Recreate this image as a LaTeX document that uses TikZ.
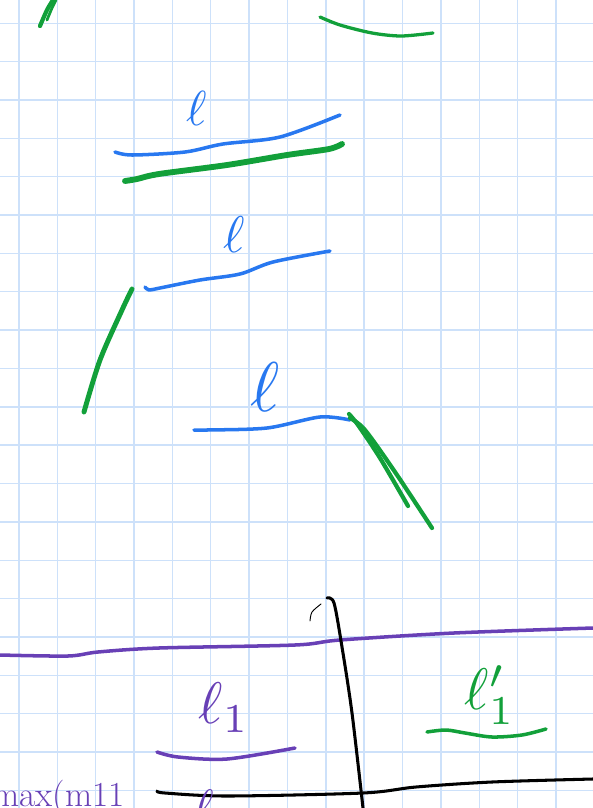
\documentclass[tikz,border=0pt]{standalone}
\usepackage{xcolor}
\usepackage{tikz}

\definecolor{gridblue}{RGB}{205,225,250}
\definecolor{penblue}{RGB}{40,120,240}
\definecolor{pengreen}{RGB}{18,160,58}
\definecolor{penpurple}{RGB}{104,64,182}

\begin{document}
\begin{tikzpicture}[
    x=0.03cm, y=-0.03cm,
    gridline/.style={draw=gridblue, line width=1.2pt},
    pen/.style={line width=3pt, line cap=round, line join=round},
    bluepen/.style={pen, draw=penblue},
    greenpen/.style={pen, draw=pengreen, line width=3.6pt},
    purplepen/.style={pen, draw=penpurple},
    blackpen/.style={pen, draw=black, line width=2.6pt},
    lbl/.style={inner sep=0pt}
]

\useasboundingbox (0,0) rectangle (593,808);

% Grid paper
\foreach \k in {0,...,14} {
    \draw [gridline] (19+38.35*\k,0) -- (19+38.35*\k,808);
}
\foreach \k in {0,...,20} {
    \draw [gridline] (0,23.3+38.35*\k) -- (593,23.3+38.35*\k);
}

% Top strokes
\draw [greenpen] plot[smooth] coordinates {(40,26) (47,10) (53,0)};
\draw [greenpen, line width=2.4pt] plot[smooth] coordinates {(47,20) (52,8) (56,0)};
\draw [greenpen, line width=2.8pt] plot[smooth] coordinates {(320,17) (340,25) (372,33) (401,36) (433,33)};

% First pair
\node (ell1) [lbl, text=penblue] at (197,108) {\scalebox{4.2}{$\ell$}};
\draw [bluepen] plot[smooth] coordinates {(115,152) (132,155) (185,152) (223,144) (280,137) (340,115)};
\draw [greenpen, line width=5pt] plot[smooth] coordinates {(125,181) (137,179) (159,174) (227,165) (287,155) (329,149) (342,144)};

% Second pair
\node (ell2) [lbl, text=penblue] at (234,235) {\scalebox{4.4}{$\ell$}};
\draw [bluepen] plot[smooth] coordinates {(145,287) (149,290) (160,288) (200,280) (240,274) (273,262) (330,251)};
\draw [greenpen, line width=4.2pt] plot[smooth] coordinates {(132,289) (122,310) (100,360) (84,412)};

% Third pair
\node (ell3) [lbl, text=penblue] at (265,387) {\scalebox{6}{$\ell$}};
\draw [bluepen] plot[smooth] coordinates {(194,430) (207,430) (267,428) (320,417) (350,420)};
\draw [greenpen] plot[smooth] coordinates {(349,414) (358,425) (380,458) (408,506)};
\draw [greenpen] plot[smooth] coordinates {(350,418) (365,430) (395,472) (432,528)};

% Bottom axes
\draw [purplepen] plot[smooth] coordinates {(0,655) (68,656) (98,652) (159,648) (295,645) (340,640) (454,633) (593,628)};
\draw [blackpen, line width=0.8pt] plot[smooth] coordinates {(310,621) (312,612) (321,604)};
\draw [blackpen] plot[smooth] coordinates {(327,598) (334,603) (342,647) (352,713) (363,808)};
\draw [blackpen] plot[smooth] coordinates {(157,791) (165,793) (227,796) (363,793) (416,787) (492,782) (593,779)};

% Bottom labels
\node (ellone) [lbl, text=penpurple] at (224,708) {\scalebox{5}{$\ell_{1}$}};
\draw [purplepen] plot[smooth] coordinates {(157,752) (178,757) (227,759) (295,748)};
\node (ellprime) [lbl, text=pengreen] at (490,695) {\scalebox{5}{$\ell'_{1}$}};
\draw [greenpen, line width=3pt] plot[smooth] coordinates {(427,732) (446,730) (465,733) (492,737) (522,735) (546,729)};
\node (maxtext) [inner sep=0pt, anchor=base east, text=penpurple, font=\fontsize{30}{30}\selectfont] at (125,806) {max(m11};
\node (ellcut) [lbl, text=penpurple, anchor=north] at (204,790) {\scalebox{4}{$\ell$}};

\end{tikzpicture}
\end{document}
